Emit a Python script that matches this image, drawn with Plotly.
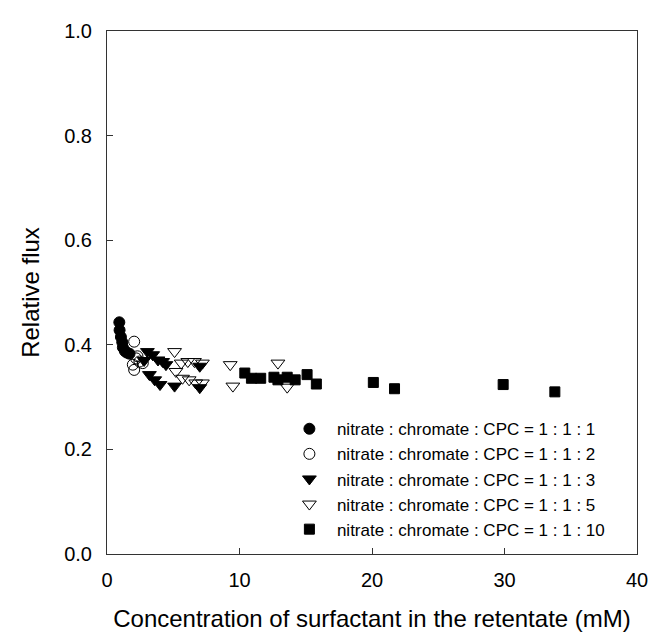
import plotly.graph_objects as go

names = ["nitrate : chromate : CPC = 1 : 1 : 1",
         "nitrate : chromate : CPC = 1 : 1 : 2",
         "nitrate : chromate : CPC = 1 : 1 : 3",
         "nitrate : chromate : CPC = 1 : 1 : 5",
         "nitrate : chromate : CPC = 1 : 1 : 10"]

x1 = [0.93, 0.95, 1.05, 1.15, 1.2, 1.35, 1.5, 1.7]
y1 = [0.443, 0.428, 0.415, 0.405, 0.395, 0.388, 0.385, 0.383]

x2 = [2.05, 2.2, 1.95, 2.45, 2.05, 2.7, 2.3]
y2 = [0.406, 0.374, 0.362, 0.368, 0.352, 0.365, 0.378]

x3 = [3.05, 3.45, 3.85, 4.2, 4.45, 3.2, 3.6, 4.0, 5.1, 7.0, 7.0, 2.8]
y3 = [0.387, 0.381, 0.371, 0.368, 0.362, 0.343, 0.333, 0.324, 0.321, 0.359, 0.318, 0.37]

x4 = [5.1, 5.6, 6.1, 6.6, 7.2, 9.3, 5.2, 5.7, 6.2, 6.7, 7.2, 9.5, 12.9, 13.6]
y4 = [0.387, 0.365, 0.368, 0.368, 0.365, 0.362, 0.349, 0.336, 0.333, 0.327, 0.327, 0.321, 0.365, 0.319]

x5 = [10.4, 10.9, 11.6, 12.6, 12.9, 13.6, 14.2, 15.1, 15.8, 20.1, 21.7, 29.9, 33.8]
y5 = [0.346, 0.336, 0.336, 0.338, 0.333, 0.338, 0.333, 0.343, 0.325, 0.328, 0.316, 0.324, 0.310]

xs = [x1, x2, x3, x4, x5]
ys = [y1, y2, y3, y4, y5]
symbols = ["circle", "circle-open", "triangle-down", "triangle-down-open", "square"]
sizes = [11, 11, 12, 12, 10]

fig = go.Figure()
for xv, yv, nm, sym, sz in zip(xs, ys, names, symbols, sizes):
    fig.add_trace(go.Scatter(
        x=xv, y=yv, mode="markers", name=nm,
        marker=dict(symbol=sym, size=sz, color="black",
                    line=dict(color="black", width=1)),
    ))

axis_common = dict(showgrid=False, zeroline=False, showline=True, linecolor="#333",
                   linewidth=1, mirror=True, ticks="inside", ticklen=6,
                   tickcolor="#333", tickfont=dict(family="Liberation Sans, Arial", size=20, color="black"))

fig.update_layout(
    width=657, height=632,
    margin=dict(l=99, r=28, t=19, b=84),
    plot_bgcolor="white", paper_bgcolor="white",
    font=dict(family="Liberation Sans, Arial", color="black"),
    xaxis=dict(range=[0, 40], tickvals=[0, 10, 20, 30, 40], ticklabelstandoff=8,
               title=dict(text="Concentration of surfactant in the retentate (mM)",
                          font=dict(size=24), standoff=20),
               **axis_common),
    yaxis=dict(range=[0, 1.0], tickvals=[0, 0.2, 0.4, 0.6, 0.8, 1.0], tickformat=".1f",
               ticklabelstandoff=10,
               title=dict(text="Relative flux", font=dict(size=24), standoff=17),
               **axis_common),
    legend=dict(x=0.33, y=0.013, xanchor="left", yanchor="bottom",
                font=dict(size=17), bgcolor="rgba(0,0,0,0)", borderwidth=0,
                itemwidth=45, tracegroupgap=0),
    showlegend=True,
)

fig.write_html("out.html")
